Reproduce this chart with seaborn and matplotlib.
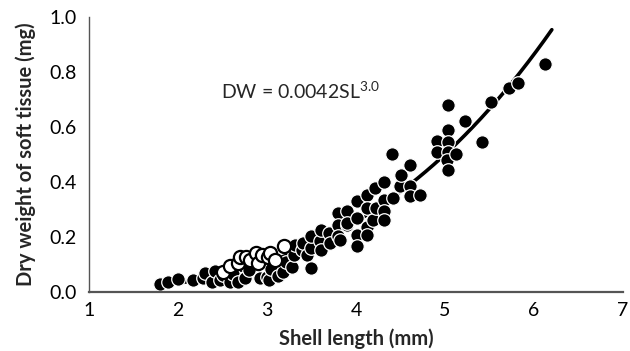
import numpy as np
import pandas as pd
import matplotlib
matplotlib.use("Agg")
import matplotlib.pyplot as plt
import seaborn as sns

# Filled (black) points: shell length (mm), dry weight (mg)
black_sl = [1.80, 1.89, 2.00, 2.17, 2.28, 2.30, 2.38, 2.42, 2.47, 2.51, 2.58, 2.62, 2.68, 2.75,
            2.80, 2.92, 3.00, 3.02, 3.05, 3.12, 3.18, 3.22, 3.28, 3.30, 3.31, 3.39, 3.41, 3.45,
            3.50, 3.50, 3.50, 3.60, 3.61, 3.61, 3.70, 3.71, 3.80, 3.80, 3.80, 3.82, 3.90, 3.90,
            3.90, 4.01, 4.01, 4.01, 4.01, 4.12, 4.12, 4.12, 4.12, 4.19, 4.21, 4.23, 4.31, 4.31,
            4.31, 4.31, 4.40, 4.42, 4.49, 4.51, 4.61, 4.61, 4.61, 4.72, 4.91, 4.91, 5.03, 5.03,
            5.03, 5.03, 5.02, 5.03, 5.12, 5.22, 5.42, 5.52, 5.72, 5.82, 6.12]
black_dw = [0.030, 0.038, 0.046, 0.044, 0.050, 0.070, 0.038, 0.075, 0.044, 0.062, 0.038, 0.065, 0.038, 0.050,
            0.080, 0.050, 0.056, 0.044, 0.085, 0.060, 0.074, 0.110, 0.092, 0.135, 0.170, 0.153, 0.178, 0.135,
            0.160, 0.202, 0.087, 0.184, 0.226, 0.153, 0.214, 0.178, 0.287, 0.245, 0.202, 0.190, 0.245, 0.293,
            0.250, 0.330, 0.269, 0.208, 0.168, 0.354, 0.305, 0.238, 0.208, 0.263, 0.378, 0.305, 0.400, 0.336,
            0.293, 0.263, 0.500, 0.342, 0.384, 0.427, 0.463, 0.387, 0.348, 0.354, 0.550, 0.510, 0.680, 0.590,
            0.545, 0.510, 0.480, 0.443, 0.500, 0.620, 0.546, 0.690, 0.740, 0.760, 0.828]

# Open (white) points
white_sl = [2.51, 2.58, 2.68, 2.70, 2.77, 2.81, 2.88, 2.90, 2.95, 3.01, 3.03, 3.09, 3.19]
white_dw = [0.074, 0.095, 0.105, 0.129, 0.129, 0.115, 0.141, 0.105, 0.135, 0.129, 0.142, 0.117, 0.168]

# Fitted curve DW = a * SL^b (drawn from SL 1.8 to 6.2)
fit_a = 0.0040
fit_b = 3.0
fit_range = (1.8, 6.2)

x_ticks = [1, 2, 3, 4, 5, 6, 7]
y_ticks = [0.0, 0.2, 0.4, 0.6, 0.8, 1.0]

sns.set_theme(style="white")
plt.rcParams['font.family'] = ['Lato', 'DejaVu Sans']

fig = plt.figure(figsize=(6.3, 3.51), dpi=100)
ax = fig.add_axes([0.141, 0.168, 0.848, 0.784])

curve_x = np.linspace(fit_range[0], fit_range[1], 200)
curve = pd.DataFrame({"SL": curve_x, "DW": fit_a * curve_x ** fit_b})
sns.lineplot(data=curve, x="SL", y="DW", ax=ax, color="black", linewidth=2.6, zorder=1)

df_b = pd.DataFrame({"SL": black_sl, "DW": black_dw})
sns.scatterplot(data=df_b, x="SL", y="DW", ax=ax, color="black", edgecolor="white",
                linewidth=0.9, s=95, zorder=2)
df_w = pd.DataFrame({"SL": white_sl, "DW": white_dw})
sns.scatterplot(data=df_w, x="SL", y="DW", ax=ax, color="white", edgecolor="black",
                linewidth=1.6, s=90, zorder=3)

ax.set_xlim(1, 7)
ax.set_ylim(0, 1.0)
ax.set_xticks(x_ticks)
ax.set_yticks(y_ticks)
ax.set_xticklabels([str(t) for t in x_ticks], fontsize=14)
ax.set_yticklabels([f"{t:.1f}" for t in y_ticks], fontsize=14)
ax.tick_params(axis='x', direction='inout', length=6, width=1, colors='#555555', labelcolor='black', pad=4)
ax.tick_params(axis='y', direction='out', length=5, width=1, colors='#555555', labelcolor='black', pad=4)
for s in ['top', 'right']:
    ax.spines[s].set_visible(False)
ax.spines['left'].set_color('#555555')
ax.spines['left'].set_linewidth(1.0)
ax.spines['bottom'].set_color('#555555')
ax.spines['bottom'].set_linewidth(1.6)

ax.set_xlabel("Shell length (mm)", fontsize=14.5, fontweight='bold', labelpad=7)
ax.set_ylabel("Dry weight of soft tissue (mg)", fontsize=14.5, fontweight='bold', labelpad=9)

ax.text(2.49, 0.73, r"DW = 0.0042SL$^{\mathregular{3.0}}$", fontsize=14, va='center', ha='left')

fig.savefig("out.png", dpi=100)
